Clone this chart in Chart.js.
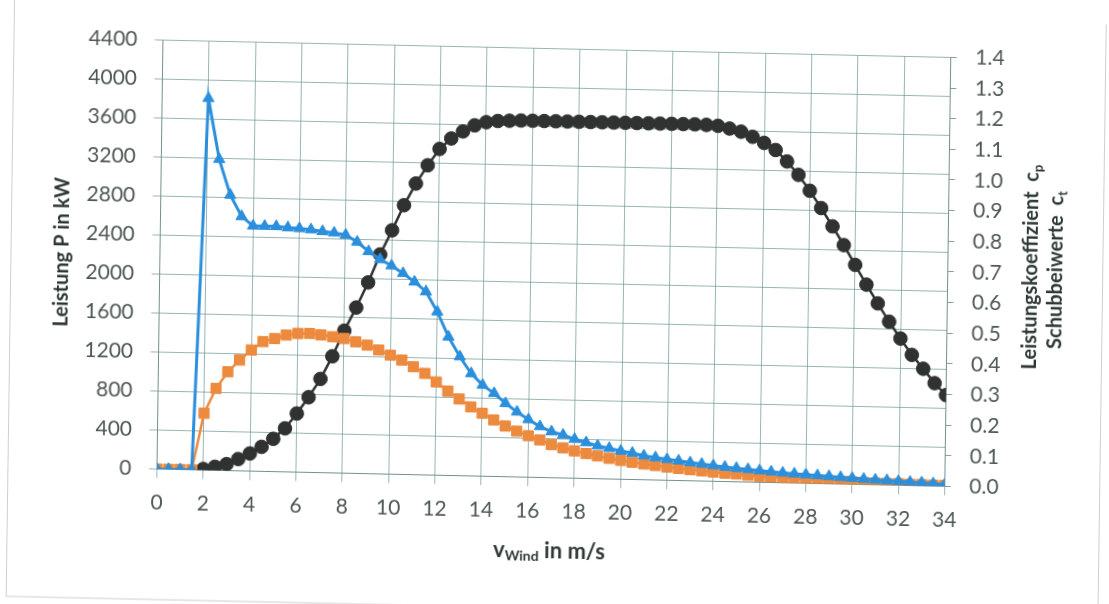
<!DOCTYPE html>
<html><head><meta charset="utf-8">
<script src="https://cdn.jsdelivr.net/npm/chart.js@4/dist/chart.umd.min.js"></script>
<style>
html,body{margin:0;padding:0;background:#fff;overflow:hidden;width:1109px;height:604px;}
#wrap{position:absolute;left:0;top:0;width:1109px;height:604px;transform-origin:0 0;transform:matrix(1,0.022,-0.014,1,0,0);}
canvas{display:block;}
</style></head><body>
<div id="wrap"><canvas id="c" width="1109" height="604"></canvas></div>
<script>
// wind speed categories (m/s)
const windSpeed = [0,0.5,1,1.5,2,2.5,3,3.5,4,4.5,5,5.5,6,6.5,7,7.5,8,8.5,9,9.5,10,10.5,11,11.5,12,12.5,13,13.5,14,14.5,15,15.5,16,16.5,17,17.5,18,18.5,19,19.5,20,20.5,21,21.5,22,22.5,23,23.5,24,24.5,25,25.5,26,26.5,27,27.5,28,28.5,29,29.5,30,30.5,31,31.5,32,32.5,33,33.5,34];
// Leistung P in kW (left axis)
const powerKW = [null,null,null,null,
  10,35,65,120,180,250,335,445,600,770,960,1195,1460,1700,1960,2250,2500,2760,2985,3175,3345,3455,3530,3595,3630,3645,
  3650,3655,3655,3655,3655,3655,3655,3655,3655,3655,3655,3655,3655,3655,3655,3655,3655,3652,
  3645,3620,3590,3540,3480,3410,3295,3160,3000,2825,2640,2450,2250,2050,1860,1675,1505,1340,1200,1055,935];
// Leistungskoeffizient cp (right axis)
const cpValues = [0,0,0,0,
  0.185,0.267,0.322,0.361,0.395,0.423,0.434,0.446,0.452,0.453,0.449,0.444,0.439,0.429,0.419,0.404,0.388,0.373,0.352,0.331,0.304,
  0.275,0.250,0.225,0.205,0.184,0.165,0.149,0.135,0.122,0.108,
  0.098,0.089,0.081,0.074,0.067,0.061,0.056,0.051,0.047,0.043,
  0.039,0.036,0.033,0.030,0.027,0.025,0.022,0.020,0.018,0.016,
  0.014,0.012,0.011,0.010,0.009,0.008,0.007,0.006,0.005,0.005,
  0.004,0.004,0.003,0.003];
// Schubbeiwerte ct (right axis)
const ctValues = [0,0,0,0,
  1.213,1.015,0.899,0.830,0.800,0.800,0.800,0.797,0.795,0.792,0.787,0.783,0.777,0.755,0.725,0.700,0.680,0.656,0.629,0.598,0.533,
  0.452,0.388,0.334,0.297,0.271,0.239,0.212,0.188,0.166,0.150,
  0.140,0.127,0.117,0.107,0.100,0.092,0.086,0.078,0.073,0.068,
  0.064,0.059,0.055,0.051,0.047,0.044,0.041,0.038,0.035,0.032,
  0.030,0.028,0.026,0.024,0.022,0.020,0.018,0.016,0.015,0.013,
  0.011,0.010,0.008,0.006];
// tick labels
const xTicks = [0,2,4,6,8,10,12,14,16,18,20,22,24,26,28,30,32,34];
const powerTicks = [0,400,800,1200,1600,2000,2400,2800,3200,3600,4000,4400];
const coefTicks = [0,0.1,0.2,0.3,0.4,0.5,0.6,0.7,0.8,0.9,1.0,1.1,1.2,1.3,1.4];

const GRID = 'rgba(110,150,148,0.7)';
const AXISC = 'rgba(110,140,138,0.85)';
const TICKC = '#4e5853';
const TITLEC = '#2e3833';
const FONT = 'Lato';

const toXY = arr => windSpeed.map((v,i)=>({x:v, y:arr[i]}));

function drawRich(ctx, parts, cx, cy, rot){
  ctx.save();
  ctx.translate(cx, cy);
  ctx.rotate(rot);
  ctx.textBaseline = 'middle';
  ctx.textAlign = 'left';
  let total = 0;
  parts.forEach(p=>{ ctx.font = 'bold ' + p.s + 'px ' + FONT; p.w = ctx.measureText(p.t).width; total += p.w; });
  let x = -total/2;
  parts.forEach(p=>{ ctx.font = 'bold ' + p.s + 'px ' + FONT; ctx.fillText(p.t, x, p.dy||0); x += p.w; });
  ctx.restore();
}

const titlePlugin = {
  id: 'titles',
  beforeDraw(chart){
    const ctx = chart.ctx;
    ctx.save();
    ctx.strokeStyle = 'rgba(170,175,172,0.6)';
    ctx.lineWidth = 1;
    ctx.strokeRect(14.5, -6, 1092, 602);
    ctx.restore();
  },
  afterDraw(chart){
    const ctx = chart.ctx;
    ctx.save();
    ctx.fillStyle = TITLEC;
    drawRich(ctx, [{t:'Leistung P in kW', s:20}], 65.5, 250.6, -Math.PI/2);
    drawRich(ctx, [{t:'v', s:22},{t:'Wind', s:14, dy:6},{t:' in m/s', s:22}], 556.7, 538.9, 0);
    drawRich(ctx, [{t:'Leistungskoeffizient  c', s:20},{t:'p', s:13, dy:6}], 1034.5, 244.3, -Math.PI/2);
    drawRich(ctx, [{t:'Schubbeiwerte  c', s:20},{t:'t', s:13, dy:6}], 1059.5, 246.7, -Math.PI/2);
    ctx.restore();
  }
};

Chart.defaults.font.family = FONT;

new Chart(document.getElementById('c'), {
  type: 'line',
  data: {
    datasets: [
      { label: 'ct', data: toXY(ctValues), yAxisID: 'y1',
        borderColor: '#2b8fdc', backgroundColor: '#2b8fdc', borderWidth: 3,
        pointStyle: 'triangle', pointRadius: 6.5, pointBorderWidth: 1, tension: 0 },
      { label: 'cp', data: toXY(cpValues), yAxisID: 'y1',
        borderColor: '#ec8a3e', backgroundColor: '#ec8a3e', borderWidth: 2.5,
        pointStyle: 'rect', pointRadius: 7.2, pointBorderWidth: 1, tension: 0 },
      { label: 'P', data: toXY(powerKW), yAxisID: 'y',
        borderColor: '#303232', backgroundColor: '#303232', borderWidth: 2.5,
        pointStyle: 'circle', pointRadius: 6.8, pointBorderWidth: 1, tension: 0, spanGaps: false }
    ]
  },
  options: {
    responsive: false,
    animation: false,
    devicePixelRatio: 1,
    layout: { padding: { left: 0, right: 0, top: 36.4, bottom: 0 } },
    plugins: { legend: { display: false }, tooltip: { enabled: false } },
    scales: {
      x: {
        type: 'linear', min: 0, max: 34,
        afterBuildTicks: s => { s.ticks = xTicks.map(v => ({ value: v })); },
        afterFit: s => { s.height = 138.6; },
        grid: { color: GRID, lineWidth: 1, tickLength: 9, tickColor: GRID },
        border: { color: AXISC, width: 1 },
        ticks: { font: { size: 21 }, color: TICKC, padding: 12, maxRotation: 0, autoSkip: false, callback: v => String(v) }
      },
      y: {
        position: 'left', min: 0, max: 4400,
        afterBuildTicks: s => { s.ticks = powerTicks.map(v => ({ value: v })); },
        afterFit: s => { s.width = 163.5; },
        grid: { color: GRID, lineWidth: 1, tickLength: 8, tickColor: GRID },
        border: { color: AXISC, width: 1 },
        ticks: { font: { size: 21 }, color: TICKC, padding: 17.5, callback: v => String(v) }
      },
      y1: {
        position: 'right', min: 0, max: 1.4,
        afterBuildTicks: s => { s.ticks = coefTicks.map(v => ({ value: v })); },
        afterFit: s => { s.width = 157.5; },
        grid: { drawOnChartArea: false, color: AXISC, tickLength: 6, tickColor: AXISC },
        border: { color: AXISC, width: 1 },
        ticks: { font: { size: 21 }, color: TICKC, padding: 18.5, callback: v => Number(v).toFixed(1) }
      }
    }
  },
  plugins: [titlePlugin]
});
</script>
</body></html>
